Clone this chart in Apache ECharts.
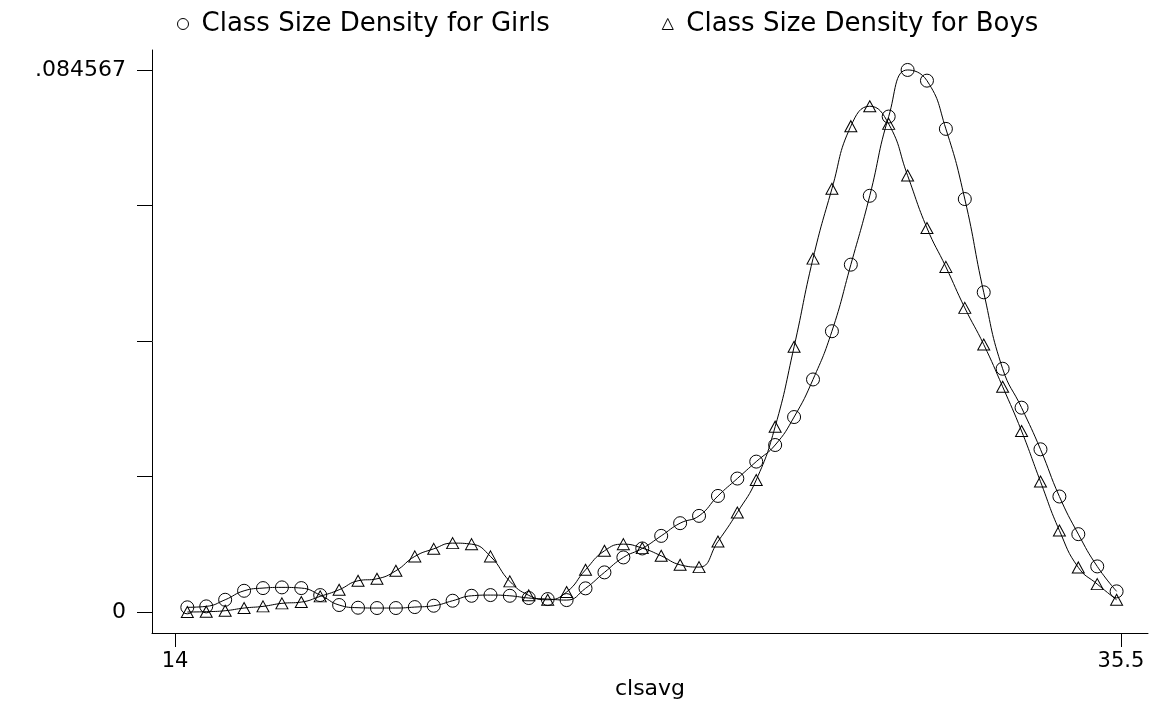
<!DOCTYPE html>
<html>
<head>
<meta charset="utf-8">
<title>Class Size Density</title>
<script src="https://cdn.jsdelivr.net/npm/echarts@6.0.0/dist/echarts.min.js"></script>
<style>
  html, body { margin: 0; padding: 0; background: #fff; }
  #main { width: 1149px; height: 705px; }
</style>
</head>
<body>
<div id="main"></div>
<script>
// evaluation points (clsavg)
var clsavg = [14.28, 14.71, 15.14, 15.57, 16.00, 16.43, 16.87, 17.30, 17.73, 18.16,
  18.59, 19.02, 19.45, 19.88, 20.31, 20.74, 21.17, 21.61, 22.04, 22.47,
  22.90, 23.33, 23.76, 24.19, 24.62, 25.05, 25.48, 25.91, 26.34, 26.78,
  27.21, 27.64, 28.07, 28.50, 28.93, 29.36, 29.79, 30.22, 30.65, 31.09,
  31.52, 31.95, 32.38, 32.81, 33.24, 33.67, 34.10, 34.53, 34.96, 35.40];

var girlsDensity = [0.00078, 0.00093, 0.00196, 0.00336, 0.00378, 0.00389, 0.00378, 0.00269, 0.00114, 0.00072,
  0.00067, 0.00067, 0.00082, 0.00103, 0.00181, 0.00258, 0.00269, 0.00258, 0.00223, 0.00207,
  0.00191, 0.00374, 0.00623, 0.00856, 0.00996, 0.01192, 0.01390, 0.01504, 0.01815, 0.02086,
  0.02350, 0.02609, 0.03045, 0.03631, 0.04383, 0.05421, 0.06495, 0.07730, 0.084567, 0.08290,
  0.07538, 0.06444, 0.04990, 0.03798, 0.03191, 0.02542, 0.01806, 0.01219, 0.00716, 0.00327];

var boysDensity = [0.00005, 0.00010, 0.00025, 0.00067, 0.00093, 0.00140, 0.00160, 0.00249, 0.00352, 0.00492,
  0.00523, 0.00648, 0.00872, 0.00990, 0.01079, 0.01063, 0.00872, 0.00483, 0.00265, 0.00196,
  0.00316, 0.00663, 0.00959, 0.01063, 0.01001, 0.00881, 0.00741, 0.00705, 0.01105, 0.01557,
  0.02064, 0.02895, 0.04140, 0.05515, 0.06604, 0.07580, 0.07891, 0.07616, 0.06811, 0.05993,
  0.05386, 0.04747, 0.04176, 0.03518, 0.02827, 0.02039, 0.01276, 0.00700, 0.00440, 0.00196];

var xTickValues = [14, 35.5];
var yMaxDensity = 0.084567;
var yTickValues = [0, 0.02114175, 0.0422835, 0.06342525, 0.084567];
var yLabelValues = [0, 0.084567];

var seriesNames = ['Class Size Density for Girls', 'Class Size Density for Boys'];

function pairs(xs, ys) {
  return xs.map(function (x, i) { return [x, ys[i]]; });
}

var font = 'DejaVu Sans';
var chart = echarts.init(document.getElementById('main'));

chart.setOption({
  animation: false,
  backgroundColor: '#fff',
  textStyle: { fontFamily: font, color: '#000' },
  legend: {
    left: 172,
    top: 6,
    itemWidth: 11,
    itemHeight: 11,
    itemGap: 112,
    textStyle: { fontFamily: font, fontSize: 26, color: '#000', padding: [0, 0, 0, 8] },
    itemStyle: { color: 'rgba(0,0,0,0)', borderColor: '#000', borderWidth: 1 },
    data: [
      { name: seriesNames[0], icon: 'circle' },
      { name: seriesNames[1], icon: 'triangle' }
    ]
  },
  grid: { left: 152, right: 1, top: 50, bottom: 71, containLabel: false },
  xAxis: {
    type: 'value',
    min: 13.4773,
    max: 36.1136,
    name: 'clsavg',
    nameLocation: 'middle',
    nameGap: 45,
    nameTextStyle: { fontFamily: font, fontSize: 22, color: '#000' },
    axisLine: { onZero: false, lineStyle: { color: '#000', width: 1 } },
    axisTick: { show: true, length: 14, customValues: xTickValues, lineStyle: { color: '#000' } },
    axisLabel: {
      customValues: xTickValues,
      margin: 18,
      fontFamily: font,
      fontSize: 21,
      color: '#000',
      formatter: function (v) { return String(v); }
    },
    splitLine: { show: false }
  },
  yAxis: {
    type: 'value',
    min: -0.003222,
    max: 0.087679,
    axisLine: { show: true, onZero: false, lineStyle: { color: '#000', width: 1 } },
    axisTick: { show: true, length: 15, customValues: yTickValues, lineStyle: { color: '#000' } },
    axisLabel: {
      customValues: yLabelValues,
      margin: 26,
      fontFamily: font,
      fontSize: 22,
      color: '#000',
      formatter: function (v) { return v === 0 ? '0' : String(yMaxDensity).replace(/^0/, ''); }
    },
    splitLine: { show: false }
  },
  series: [
    {
      name: seriesNames[0],
      type: 'line',
      smooth: 0.5,
      symbol: 'circle',
      symbolSize: 13,
      itemStyle: { color: 'rgba(0,0,0,0)', borderColor: '#000', borderWidth: 1 },
      lineStyle: { color: '#000', width: 1 },
      data: pairs(clsavg, girlsDensity)
    },
    {
      name: seriesNames[1],
      type: 'line',
      smooth: 0.5,
      symbol: 'triangle',
      symbolSize: [12, 11],
      itemStyle: { color: 'rgba(0,0,0,0)', borderColor: '#000', borderWidth: 1 },
      lineStyle: { color: '#000', width: 1 },
      data: pairs(clsavg, boysDensity)
    }
  ]
});
</script>
</body>
</html>
